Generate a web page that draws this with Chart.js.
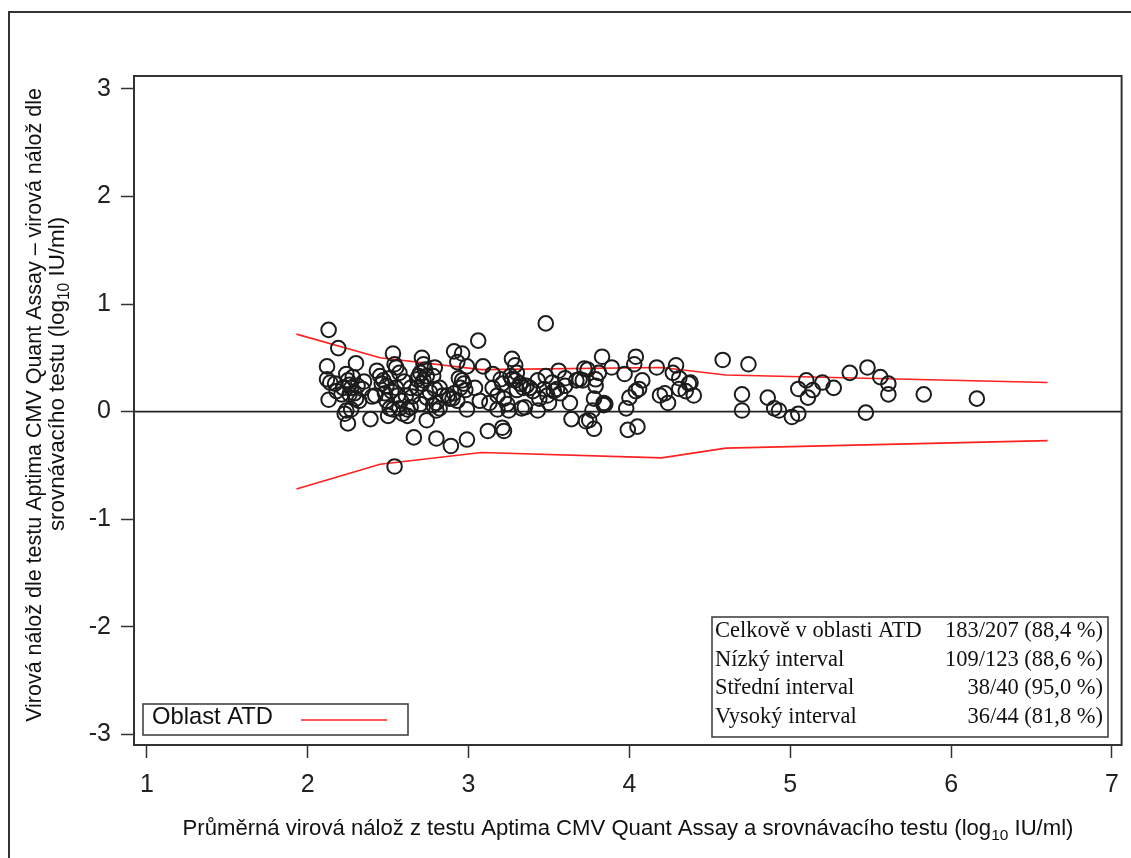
<!DOCTYPE html>
<html><head><meta charset="utf-8">
<script src="https://cdn.jsdelivr.net/npm/chart.js@4.4.1/dist/chart.umd.min.js"></script>
<style>html,body{margin:0;padding:0;background:#fff;}#wrap{position:relative;width:1131px;height:858px;}</style>
</head><body><div id="wrap"><canvas id="c" width="1131" height="858"></canvas></div>
<script>
// ---- data ----
const xTickValues = [1, 2, 3, 4, 5, 6, 7];
const yTickValues = [-3, -2, -1, 0, 1, 2, 3];

// mean viral load (log10 IU/ml) of each specimen
const meanLoad = [
 2.13,2.19,2.30,2.12,2.12,2.14,2.13,2.17,2.24,2.25,2.27,2.29,2.31,2.34,2.26,2.30,2.21,2.18,2.24,2.27,2.25,2.23,2.39,2.40,2.42,2.26,2.28,2.32,2.22,2.35,
 2.43,2.45,2.47,2.49,2.48,2.52,2.55,2.53,2.54,2.55,2.60,2.56,2.51,2.50,2.53,2.57,2.59,2.62,2.62,2.54,2.46,2.51,2.57,2.49,2.58,2.64,2.61,
 2.71,2.72,2.70,2.68,2.71,2.74,2.68,2.65,2.70,2.64,2.74,2.78,2.79,2.78,2.80,2.74,2.66,2.80,2.79,2.82,2.84,2.80,2.82,2.72,2.76,2.69,2.73,
 2.91,2.96,2.93,2.99,3.06,3.09,3.15,2.96,2.97,2.95,3.04,2.87,2.91,2.90,2.99,3.07,2.89,2.99,2.88,2.93,2.98,2.94,
 3.12,3.21,3.22,3.27,3.29,3.30,3.27,3.15,3.21,3.18,3.22,3.24,3.18,3.25,3.34,3.36,3.38,3.32,3.35,3.43,3.44,3.43,3.48,3.47,3.48,3.33,3.26,3.29,3.40,3.13,3.20,3.30,
 3.52,3.53,3.55,3.49,3.50,3.56,3.63,3.64,3.69,3.72,3.73,3.60,3.60,3.74,3.71,3.81,3.79,3.89,3.79,3.78,3.84,3.85,3.84,3.77,3.75,3.78,3.83,3.67,3.57,
 3.97,4.03,4.04,4.17,4.29,4.27,4.31,4.38,4.35,4.40,4.31,4.08,4.06,4.04,4.19,4.22,4.24,4.00,3.98,3.99,4.05,4.37,
 4.58,4.74,4.70,4.70,4.86,4.90,4.93,5.01,5.05,5.05,5.10,5.11,5.14,5.20,5.27,5.37,5.48,5.56,5.61,5.61,5.83,6.16,5.47
];
// difference Aptima - comparator (log10 IU/ml)
const loadDiff = [
 0.76,0.59,0.45,0.42,0.30,0.27,0.11,0.26,0.35,0.29,0.22,0.17,0.24,0.21,0.16,0.12,0.16,0.19,0.01,0.02,-0.11,-0.02,-0.07,0.14,0.15,0.25,0.32,0.10,0.22,0.28,
 0.38,0.33,0.29,0.24,0.17,0.19,0.22,0.54,0.44,0.41,0.28,0.15,0.03,-0.04,0.02,0.03,-0.02,0.02,-0.04,-0.51,0.26,0.31,0.36,0.10,0.10,0.22,0.15,
 0.50,0.44,0.36,0.30,0.26,0.33,0.22,0.14,0.07,0.04,0.13,0.33,0.21,0.06,0.01,-0.08,-0.24,-0.25,0.41,0.22,0.15,0.08,0.03,0.29,0.18,0.33,0.39,
 0.56,0.54,0.46,0.42,0.66,0.42,0.35,0.29,0.26,0.22,0.22,0.15,0.17,0.12,0.02,0.10,-0.32,-0.26,0.12,0.10,0.20,0.31,
 -0.18,-0.15,-0.18,0.49,0.43,0.36,0.30,0.22,0.26,0.15,0.12,0.07,0.02,0.01,0.22,0.24,0.22,0.26,0.04,0.01,0.12,0.29,0.33,0.21,0.82,0.03,0.33,0.29,0.19,0.08,0.30,0.20,
 0.27,0.19,0.21,0.15,0.08,0.38,0.08,-0.07,0.30,0.40,-0.09,0.31,0.24,0.39,0.29,0.36,0.30,0.41,0.24,0.12,0.08,0.07,0.06,0.01,-0.08,-0.16,0.51,0.29,0.17,
 0.35,0.44,0.51,0.41,0.43,0.36,0.31,0.27,0.19,0.15,0.21,0.29,0.21,0.19,0.15,0.17,0.08,0.13,0.03,-0.17,-0.14,0.26,
 0.48,0.44,0.16,0.01,0.13,0.03,0.01,-0.05,-0.02,0.21,0.29,0.13,0.20,0.27,0.22,0.36,0.41,0.32,0.26,0.16,0.16,0.12,-0.01
];

// ATD region boundaries
const atdX      = [1.93, 2.45, 3.08, 4.20, 4.60, 6.60];
const atdUpper  = [0.72, 0.50, 0.39, 0.41, 0.34, 0.27];
const atdLower  = [-0.72, -0.49, -0.38, -0.43, -0.34, -0.27];

const statLabels = ["Celkově v oblasti ATD", "Nízký interval", "Střední interval", "Vysoký interval"];
const statValues = ["183/207 (88,4 %)", "109/123 (88,6 %)", "38/40 (95,0 %)", "36/44 (81,8 %)"];
const legendLabel = "Oblast ATD";
const xTitleParts = [["Průměrná virová nálož z testu Aptima CMV Quant Assay a srovnávacího testu (log", false], ["10", true], [" IU/ml)", false]];
const yTitle1Parts = [["Virová nálož dle testu Aptima CMV Quant Assay – virová nálož dle", false]];
const yTitle2Parts = [["srovnávacího testu (log", false], ["10", true], [" IU/ml)", false]];

// ---- helpers ----
const SANS = '"Liberation Sans", Arial, sans-serif';
const SERIF = '"Liberation Serif", "Times New Roman", serif';
function partsWidth(ctx, parts, size, fam) {
  let w = 0;
  for (const [t, sub] of parts) { ctx.font = (sub ? size * 0.7 : size) + 'px ' + fam; w += ctx.measureText(t).width; }
  return w;
}
function fitSize(ctx, parts, fam, target) { return 100 * target / partsWidth(ctx, parts, 100, fam); }
function drawParts(ctx, parts, cx, cy, size, fam, color) {
  const w = partsWidth(ctx, parts, size, fam);
  let x = cx - w / 2;
  ctx.fillStyle = color; ctx.textBaseline = 'middle'; ctx.textAlign = 'left';
  for (const [t, sub] of parts) {
    ctx.font = (sub ? size * 0.7 : size) + 'px ' + fam;
    ctx.fillText(t, x, sub ? cy + size * 0.3 : cy);
    x += ctx.measureText(t).width;
  }
}

const overlay = {
  id: 'overlay',
  beforeDatasetsDraw(chart) {
    const {ctx, chartArea: a, scales: {y}} = chart;
    const y0 = y.getPixelForValue(0);
    ctx.save(); ctx.strokeStyle = '#222'; ctx.lineWidth = 1.6;
    ctx.beginPath(); ctx.moveTo(a.left, y0); ctx.lineTo(a.right, y0); ctx.stroke(); ctx.restore();
  },
  afterDraw(chart) {
    const {ctx, chartArea: a} = chart;
    ctx.save();
    // plot frame
    ctx.strokeStyle = '#333'; ctx.lineWidth = 2;
    ctx.strokeRect(a.left, a.top, a.right - a.left, a.bottom - a.top);
    // outer frame
    ctx.beginPath(); ctx.moveTo(9, 860); ctx.lineTo(9, 12); ctx.lineTo(1135, 12); ctx.stroke();

    // legend box
    ctx.fillStyle = '#fff'; ctx.fillRect(143, 704, 265, 31);
    ctx.strokeStyle = '#444'; ctx.lineWidth = 1.6; ctx.strokeRect(143, 704, 265, 31);
    const ls = fitSize(ctx, [[legendLabel, false]], SANS, 121);
    ctx.font = ls + 'px ' + SANS; ctx.fillStyle = '#111'; ctx.textAlign = 'left'; ctx.textBaseline = 'middle';
    ctx.fillText(legendLabel, 152, 717);
    ctx.strokeStyle = '#ff2020'; ctx.lineWidth = 1.6;
    ctx.beginPath(); ctx.moveTo(301, 720); ctx.lineTo(387, 720); ctx.stroke();

    // stats box
    ctx.fillStyle = '#fff'; ctx.fillRect(712, 617, 396, 120);
    ctx.strokeStyle = '#444'; ctx.lineWidth = 1.6; ctx.strokeRect(712, 617, 396, 120);
    const ss = fitSize(ctx, [[statLabels[0], false]], SERIF, 207);
    ctx.font = ss + 'px ' + SERIF; ctx.fillStyle = '#111'; ctx.textBaseline = 'middle';
    const rowY = [631, 660, 688, 717];
    statLabels.forEach((t, i) => {
      ctx.textAlign = 'left'; ctx.fillText(t, 715, rowY[i]);
      ctx.textAlign = 'right'; ctx.fillText(statValues[i], 1103, rowY[i]);
    });

    // axis titles
    const xs = fitSize(ctx, xTitleParts, SANS, 891);
    drawParts(ctx, xTitleParts, 628, 829, xs, SANS, '#111');
    const y1s = fitSize(ctx, yTitle1Parts, SANS, 634);
    ctx.save(); ctx.translate(35, 405); ctx.rotate(-Math.PI / 2);
    drawParts(ctx, yTitle1Parts, 0, 0, y1s, SANS, '#111'); ctx.restore();
    ctx.save(); ctx.translate(58, 374); ctx.rotate(-Math.PI / 2);
    drawParts(ctx, yTitle2Parts, 0, 0, y1s * 1.04, SANS, '#111'); ctx.restore();
    ctx.restore();
  }
};

const pts = meanLoad.map((x, i) => ({x, y: loadDiff[i]}));
const up = atdX.map((x, i) => ({x, y: atdUpper[i]}));
const lo = atdX.map((x, i) => ({x, y: atdLower[i]}));

new Chart(document.getElementById('c'), {
  type: 'scatter',
  data: { datasets: [
    { label: 'data', data: pts, pointRadius: 7.3, pointHoverRadius: 7.3, borderWidth: 2, borderColor: '#1c1c1c', backgroundColor: 'rgba(0,0,0,0)', order: 1 },
    { label: legendLabel, data: up, showLine: true, pointRadius: 0, borderColor: '#ff2020', borderWidth: 1.6, tension: 0, order: 2 },
    { label: legendLabel + ' lower', data: lo, showLine: true, pointRadius: 0, borderColor: '#ff2020', borderWidth: 1.6, tension: 0, order: 2 }
  ]},
  options: {
    responsive: false, animation: false, devicePixelRatio: 1,
    layout: { padding: { top: 76, right: 9, left: 0, bottom: 0 } },
    plugins: { legend: { display: false }, tooltip: { enabled: false } },
    scales: {
      x: {
        type: 'linear', min: 0.92, max: 7.06,
        afterBuildTicks: s => { s.ticks = xTickValues.map(v => ({value: v})); },
        afterFit: s => { s.height = 113; },
        grid: { drawOnChartArea: false, drawTicks: true, tickLength: 13, tickColor: '#333', tickWidth: 1.5 },
        border: { display: false },
        ticks: { color: '#222', font: { family: SANS, size: 25 }, padding: 12, maxRotation: 0 }
      },
      y: {
        type: 'linear', min: -3.1, max: 3.12,
        afterBuildTicks: s => { s.ticks = yTickValues.map(v => ({value: v})); },
        afterFit: s => { s.width = 134; },
        grid: { drawOnChartArea: false, drawTicks: true, tickLength: 13, tickColor: '#333', tickWidth: 1.5 },
        border: { display: false },
        ticks: { color: '#222', font: { family: SANS, size: 25 }, padding: 10 }
      }
    }
  },
  plugins: [overlay]
});
</script></body></html>
